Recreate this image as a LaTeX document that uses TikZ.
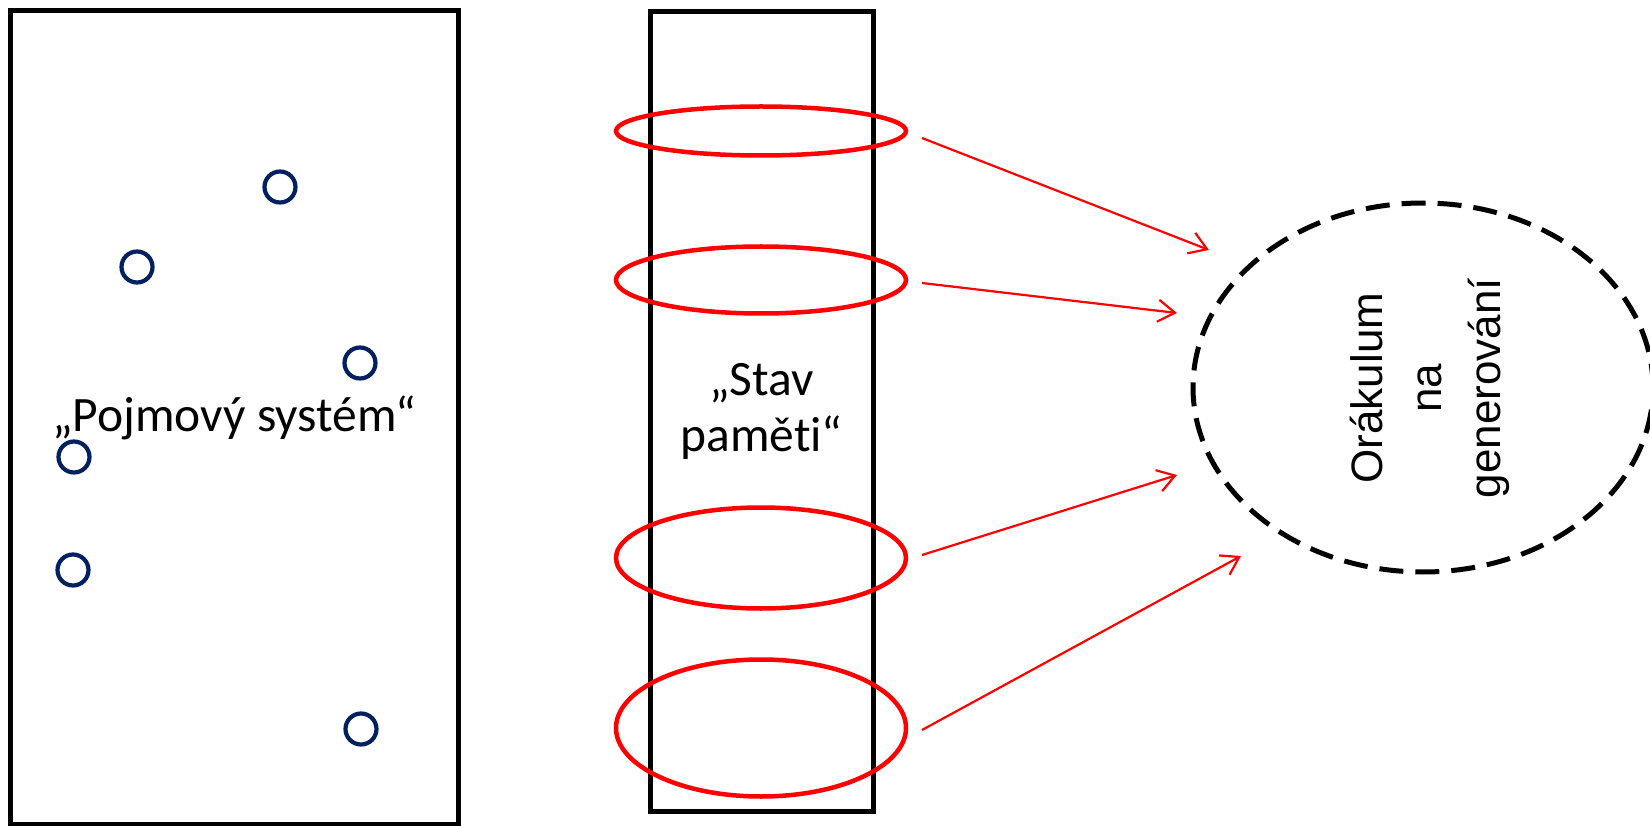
\documentclass[tikz,border=0pt]{standalone}
\usepackage{fontspec}
\newfontfamily\calfont[Ligatures=NoCommon]{Carlito}
\newfontfamily\arfont{Liberation Sans}
\usetikzlibrary{shapes.geometric,arrows.meta}
\definecolor{conceptblue}{RGB}{0,32,96}
\begin{document}
\begin{tikzpicture}[x=1pt,y=-1pt,
  panel/.style={draw=black, line width=5pt, inner sep=0pt, align=center,
    font=\calfont\fontsize{49.5}{56}\selectfont},
  concept/.style={circle, draw=conceptblue, line width=4.2pt, minimum size=31pt, inner sep=0pt},
  window/.style={ellipse, draw=red, line width=4.5pt, minimum width=290pt, inner sep=0pt},
  feed/.style={draw=red, line width=2.2pt, -{Straight Barb[length=17pt,width=22pt]}},
  oraclestyle/.style={ellipse, draw=black, line width=5pt, dash pattern=on 24pt off 12pt,
    minimum width=460pt, minimum height=369pt, inner sep=0pt},
  oracletext/.style={rotate=90, align=center, font=\arfont\fontsize{44}{59}\selectfont}
]
\useasboundingbox (0,0) rectangle (1650,826);

% concept system panel and its concepts
\node[panel, minimum width=447.5pt, minimum height=813pt] (pojmy) at (234.25,417.5) {„Pojmový systém“};
\node[concept] (c1) at (280,187) {};
\node[concept] (c2) at (137,267) {};
\node[concept] (c3) at (360,363) {};
\node[concept] (c4) at (74,457) {};
\node[concept] (c5) at (73,570) {};
\node[concept] (c6) at (361,729) {};

% memory state panel with its windows
\node[panel, minimum width=223pt, minimum height=799.5pt] (pamet) at (761.5,411.25) {„Stav\\paměti“};
\node[window, minimum height=49pt] (w1) at (761,131) {};
\node[window, minimum height=67pt] (w2) at (761,280) {};
\node[window, minimum height=101pt] (w3) at (761,558) {};
\node[window, minimum height=137pt] (w4) at (761,728) {};

% oracle
\node[oraclestyle] (oracle) at (1423,387.5) {};
\node[oracletext] (otext) at (1430,388) {Orákulum\\na\\generování};

% feeds from the windows to the oracle
\coordinate (s1) at (922,138);
\coordinate (s2) at (922,283);
\coordinate (s3) at (922,555);
\coordinate (s4) at (922,730);
\coordinate (t1) at (1209,250);
\coordinate (t2) at (1177,313);
\coordinate (t3) at (1177,475);
\coordinate (t4) at (1241,556);
\draw[feed] (s1) -- (t1);
\draw[feed] (s2) -- (t2);
\draw[feed] (s3) -- (t3);
\draw[feed] (s4) -- (t4);
\end{tikzpicture}
\end{document}
